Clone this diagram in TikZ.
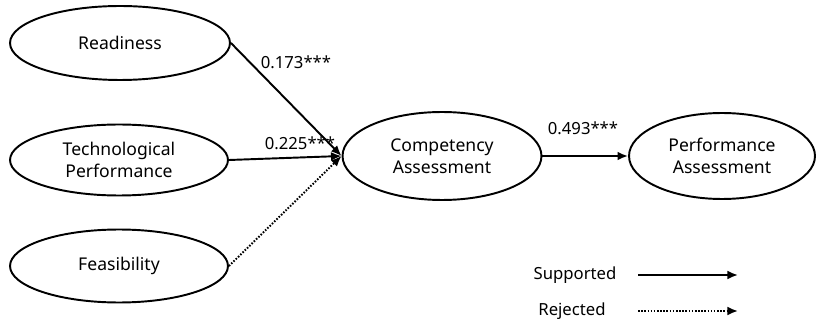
\documentclass[tikz,border=0pt]{standalone}
\usepackage{fontspec}
\setmainfont{Noto Sans}
\usepackage{tikz}
\usetikzlibrary{shapes.geometric,arrows.meta}

\begin{document}
\begin{tikzpicture}[x=0.02cm, y=-0.02cm,
        construct/.style={ellipse, draw, line width=1.1pt, inner sep=0pt, align=center,
                          font=\fontsize{10}{12.5}\selectfont},
        coef/.style={font=\fontsize{9.5}{11}\selectfont},
        legend/.style={font=\fontsize{9.5}{11}\selectfont},
        supported/.style={line width=1.1pt, -{Latex[length=6pt,width=5pt]}},
        rejected/.style={supported, dash pattern=on 0.9pt off 0.9pt}]
        \useasboundingbox (0,0) rectangle (820,327);

        \node [construct, minimum width=4.4cm,  minimum height=1.48cm] (read) at (120,43)  {Readiness};
        \node [construct, minimum width=4.36cm, minimum height=1.42cm] (tech) at (119,160) {Technological\\Performance};
        \node [construct, minimum width=4.36cm, minimum height=1.46cm] (feas) at (119,266) {Feasibility};
        \node [construct, minimum width=3.98cm, minimum height=1.76cm] (comp) at (442,156) {Competency\\Assessment};
        \node [construct, minimum width=3.72cm, minimum height=1.72cm] (perf) at (722,156) {Performance\\Assessment};

        \draw [supported]  (read.east) -- (comp.west);
        \draw [supported]  (tech.east) -- (comp.west);
        \draw [rejected]   (feas.east) -- (comp.west);
        \draw [supported]  (comp.east) -- (perf.west);

        \node [coef] (c1) at (296,62)  {0.173***};
        \node [coef] (c2) at (300,143) {0.225***};
        \node [coef] (c3) at (583,128) {0.493***};

        \node [legend] (lsup) at (575,275) {Supported};
        \node [legend] (lrej) at (572,311) {Rejected};
        \coordinate (s1) at (638,275);
        \coordinate (s2) at (738,275);
        \coordinate (r1) at (638,311);
        \coordinate (r2) at (738,311);
        \draw [supported]  (s1) -- (s2);
        \draw [rejected]   (r1) -- (r2);
\end{tikzpicture}
\end{document}
